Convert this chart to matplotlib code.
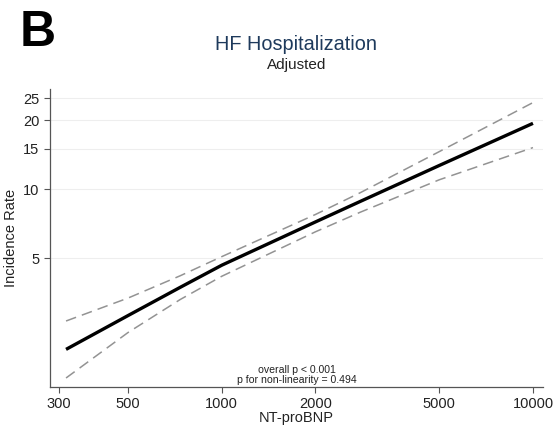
import numpy as np
import matplotlib.pyplot as plt
from matplotlib.ticker import FixedLocator, FixedFormatter, NullLocator

plt.rcParams['font.family'] = ['Liberation Sans', 'DejaVu Sans']

# NT-proBNP values and estimated incidence rate (adjusted), with 95% CI
ntprobnp = [316, 500, 735, 1000, 2000, 2787, 5000, 10000]
rate = [2.0, 2.81, 3.73, 4.66, 7.2, 8.85, 12.7, 19.4]
upper = [2.66, 3.35, 4.19, 5.08, 7.76, 9.66, 14.6, 23.9]
lower = [1.50, 2.37, 3.30, 4.17, 6.52, 7.94, 11.0, 15.2]

xticks = [300, 500, 1000, 2000, 5000, 10000]
yticks = [5, 10, 15, 20, 25]

fig = plt.figure(figsize=(5.56, 4.33), dpi=100)
ax = fig.add_axes([0.0899, 0.1062, 0.8867, 0.6883])

ax.plot(ntprobnp, upper, color='#939393', lw=1.1, dashes=(7, 4))
ax.plot(ntprobnp, lower, color='#939393', lw=1.1, dashes=(7, 4))
ax.plot(ntprobnp, rate, color='black', lw=2.4, solid_capstyle='butt')

ax.set_xscale('log')
ax.set_yscale('log')
ax.set_xlim(280.6, 10770)
ax.set_ylim(1.37, 27.4)

ax.xaxis.set_major_locator(FixedLocator(xticks))
ax.xaxis.set_major_formatter(FixedFormatter([str(v) for v in xticks]))
ax.xaxis.set_minor_locator(NullLocator())
ax.yaxis.set_major_locator(FixedLocator(yticks))
ax.yaxis.set_major_formatter(FixedFormatter([str(v) for v in yticks]))
ax.yaxis.set_minor_locator(NullLocator())

ax.grid(axis='y', color='#eeeeee', lw=0.8)
ax.set_axisbelow(True)
for s in ['top', 'right']:
    ax.spines[s].set_visible(False)
for s in ['left', 'bottom']:
    ax.spines[s].set_color('#555555')
    ax.spines[s].set_linewidth(0.9)
ax.tick_params(axis='both', colors='#555555', labelcolor='#222222',
               labelsize=10.5, length=4, width=0.8)

ax.set_xlabel('NT-proBNP', fontsize=10.5, color='#222222', labelpad=0)
ax.set_ylabel('Incidence Rate', fontsize=10.5, color='#222222', labelpad=4)

ax.text(0.5, 0.006, 'overall p < 0.001\np for non-linearity = 0.494',
        transform=ax.transAxes, ha='center', va='bottom', fontsize=7.6,
        color='#222222', linespacing=1.0)

fig.text(0.533, 0.898, 'HF Hospitalization', ha='center', va='center',
         fontsize=14.3, color='#1e3a5c')
fig.text(0.533, 0.851, 'Adjusted', ha='center', va='center',
         fontsize=11, color='#222222')
fig.text(0.036, 0.978, 'B', ha='left', va='top', fontsize=36,
         fontweight='bold', color='black')

fig.savefig('out.png', dpi=100)
